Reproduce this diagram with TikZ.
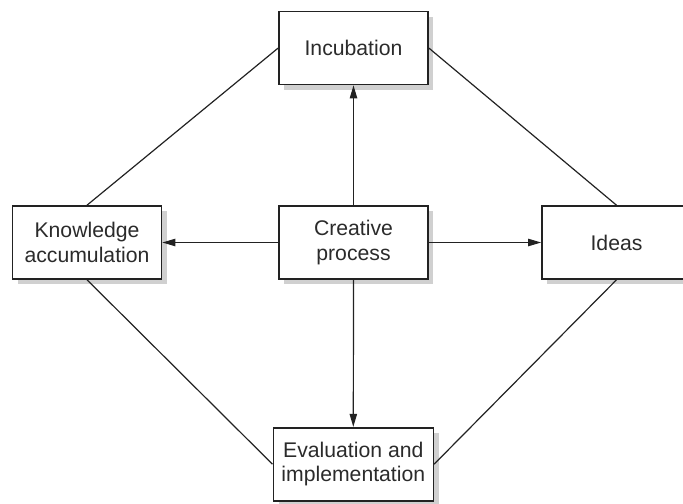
\documentclass[tikz,border=0pt]{standalone}
\usepackage{fontspec}
\setmainfont{Liberation Sans}
\usetikzlibrary{arrows.meta,shadows}
\definecolor{ink}{HTML}{222222}
\definecolor{txt}{HTML}{2B2B2B}
\definecolor{shade}{HTML}{D0D0D0}
\begin{document}
\begin{tikzpicture}[x=0.75pt,y=-0.75pt,
  stage/.style={draw=ink, line width=1.2pt, fill=white, text=txt,
    minimum width=111.75pt, minimum height=54.75pt, align=center,
    inner sep=0pt,
    font=\fontsize{15.9}{18.3}\selectfont,
    drop shadow={shadow xshift=4pt, shadow yshift=-4pt, fill=shade, opacity=1}},
  link/.style={draw=ink, line width=0.9pt},
  flow/.style={link, -{Triangle[length=9.75pt,width=5.5pt]}}]
\useasboundingbox (0,0) rectangle (683,504);
\clip (0,0) rectangle (683,504);

% the five stages
\node[stage] (inc)  at (353.5,48)    {Incubation};
\node[stage] (know) at (87,242.5)    {Knowledge\\accumulation};
\node[stage] (cre)  at (353.5,242.5) {Creative\\process};
\node[stage] (ide)  at (616.5,242.5) {Ideas};
\node[stage, minimum width=120pt] (eval) at (353.3,464.2) {Evaluation and\\implementation};

% outer cycle
\draw[link] (inc.west) -- (know.north);
\draw[link] (inc.east) -- (ide.north);
\draw[link] (know.south) -- (eval.west);
\draw[link] (ide.south) -- (eval.east);

% arrows out of the creative process
\draw[flow] (cre.north) -- (inc.south);
\draw[flow] (cre.west) -- (know.east);
\draw[flow] (cre.east) -- (ide.west);
\draw[flow] (cre.south) -- (eval.north);
\end{tikzpicture}
\end{document}
